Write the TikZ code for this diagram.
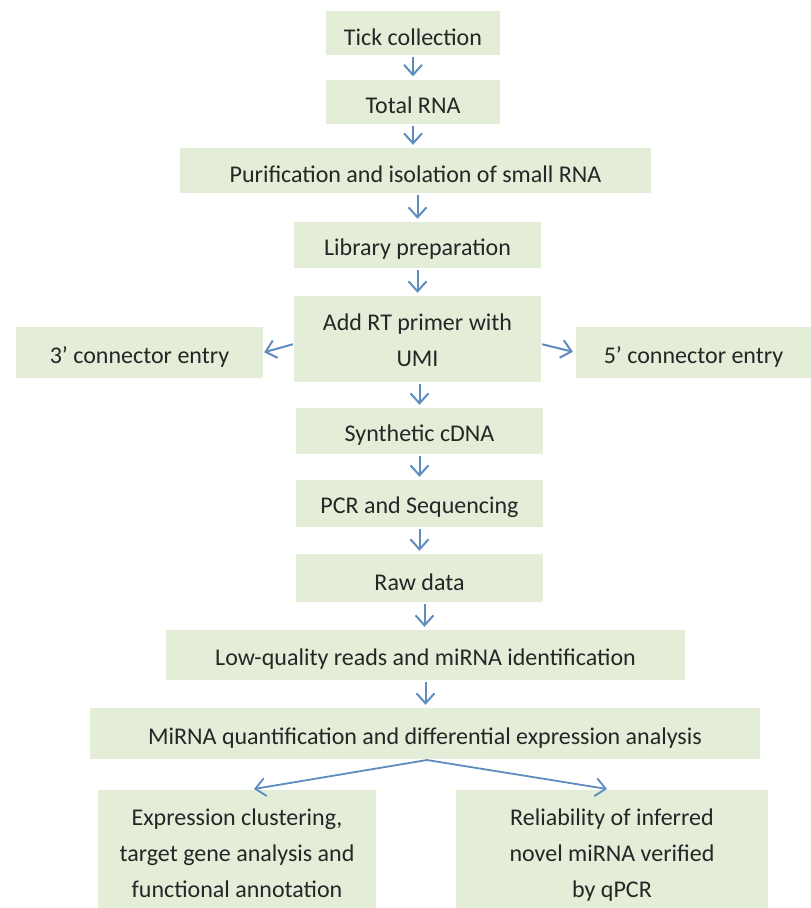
\documentclass[tikz,border=0pt]{standalone}
\usepackage{fontspec}
\setmainfont{Carlito}
\usetikzlibrary{arrows.meta}
\definecolor{boxgreen}{HTML}{E3EDD8}
\definecolor{arrowblue}{HTML}{5E8CBF}
\newcommand\mlines[2][0pt]{\raisebox{0pt}[\dimexpr\height+#1\relax][\depth]{\begin{tabular}{@{}c@{}}#2\end{tabular}}}
\begin{document}
\begin{tikzpicture}[x=1pt,y=-1pt,
  box/.style={fill=boxgreen, inner sep=0pt, align=center, text=black!85,
    font=\fontsize{24}{36}\selectfont, execute at begin node={\rule{0pt}{25pt}}},
  arr/.style={draw=arrowblue, line width=2pt, -{Straight Barb[length=10pt,width=18pt]},
    shorten <=2pt, shorten >=3pt}]
\useasboundingbox (0,0) rectangle (811,908);
\node[box, minimum width=174pt, minimum height=44pt] (tick) at (413,33) {Tick collection};
\node[box, minimum width=174pt, minimum height=44pt] (total) at (413,101.5) {Total RNA};
\node[box, minimum width=471pt, minimum height=45pt] (pur) at (415.5,170.5) {Purification and isolation of small RNA};
\node[box, minimum width=247pt, minimum height=46pt] (lib) at (417.5,245) {Library preparation};
\node[box, minimum width=247pt, minimum height=86pt] (add) at (417.5,339) {\mlines[5pt]{Add RT primer with\\UMI}};
\node[box, minimum width=247pt, minimum height=51pt] (c3) at (139.5,352.5) {3’ connector entry};
\node[box, minimum width=235pt, minimum height=51pt] (c5) at (693.5,352.5) {5’ connector entry};
\node[box, minimum width=247pt, minimum height=46pt] (syn) at (419.5,431) {Synthetic cDNA};
\node[box, minimum width=247pt, minimum height=47pt] (pcr) at (419.5,503.5) {PCR and Sequencing};
\node[box, minimum width=247pt, minimum height=48pt] (raw) at (419.5,578) {Raw data};
\node[box, minimum width=519pt, minimum height=50pt] (low) at (425.5,655) {Low-quality reads and miRNA identification};
\node[box, minimum width=670pt, minimum height=51pt] (mir) at (425,733.5) {MiRNA quantification and differential expression analysis};
\node[box, minimum width=278pt, minimum height=118pt] (expr) at (237,849) {\mlines[10pt]{Expression clustering,\\target gene analysis and\\functional annotation}};
\node[box, minimum width=312pt, minimum height=118pt] (rel) at (612,849) {\mlines[10pt]{Reliability of inferred\\novel miRNA verified\\by qPCR}};
% vertical arrows
\draw[arr] (tick.south) -- (tick.south |- total.north);
\draw[arr] (total.south) -- (total.south |- pur.north);
\draw[arr] ([xshift=2pt]pur.south) -- ([xshift=2pt]pur.south |- lib.north);
\draw[arr] (lib.south) -- (lib.south |- add.north);
\draw[arr] ([xshift=2pt]add.south) -- ([xshift=2pt]add.south |- syn.north);
\draw[arr] (syn.south) -- (syn.south |- pcr.north);
\draw[arr] (pcr.south) -- (pcr.south |- raw.north);
\draw[arr] ([xshift=5pt]raw.south) -- ([xshift=5pt]raw.south |- low.north);
\draw[arr] (low.south) -- (low.south |- mir.north);
% side arrows
\draw[arr, shorten <=1pt, shorten >=1pt] ([yshift=-5pt]add.west) -- ([yshift=0pt]c3.east);
\draw[arr, shorten <=1pt, shorten >=3pt] ([yshift=-5pt]add.east) -- ([yshift=0pt]c5.west);
% bottom arrows
\coordinate (split) at (427,760);
\draw[arr, line width=1.8pt, shorten <=0pt, shorten >=0pt] (split) -- (254,789);
\draw[arr, line width=1.8pt, shorten <=0pt, shorten >=0pt] (split) -- (607,789);
\end{tikzpicture}
\end{document}
